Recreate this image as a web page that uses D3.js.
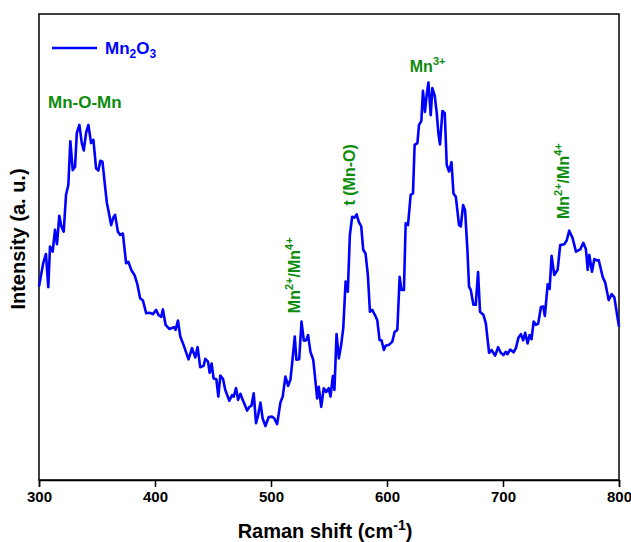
<!DOCTYPE html>
<html>
<head>
<meta charset="utf-8">
<script src="https://cdn.jsdelivr.net/npm/d3@7"></script>
<style>
  body { margin: 0; background: #fff; }
  text { font-family: "Liberation Sans", Arial, sans-serif; font-weight: bold; }
</style>
</head>
<body>
<div id="viz"></div>
<script>
// Raman spectrum of Mn2O3 (arbitrary intensity units)
var shift = [300, 303.7, 306.0, 308.0, 309.5, 311.8, 313.8, 315.5, 317.5, 319.3, 321.3, 323.3, 325.3, 327.0, 329.1,
  331.1, 332.6, 334.8, 336.9, 338.6, 340.6, 342.6, 344.9, 346.9, 349.2, 351.2, 352.9, 354.7, 357.0, 358.5,
  359.8, 362.2, 364.2, 365.6, 368.0, 370.0, 372.3, 375.1, 377.1, 379.5, 382.3, 384.6, 387.2, 389.6, 392.4,
  395.3, 398.2, 401.0, 403.0, 405.4, 406.8, 409.1, 412.5, 416.3, 417.7, 419.8, 421.8, 424.6, 428.9, 431.9,
  434.7, 436.7, 439.0, 441.9, 443.4, 445.7, 447.1, 448.8, 450.5, 452.9, 454.6, 456.3, 458.6, 460.6, 464.1,
  466.4, 467.8, 469.9, 471.6, 473.6, 475.6, 479.4, 481.4, 483.1, 485.1, 487.1, 488.9, 490.9, 492.8, 495.2,
  498.0, 501.0, 502.9, 505.3, 508.1, 510.1, 512.4, 514.8, 516.8, 518.2, 520.5, 521.9, 524.3, 526.3, 528.3,
  530.3, 532.0, 534.0, 536.4, 537.7, 539.8, 541.2, 543.3, 545.5, 547.6, 549.8, 551.3, 553.3, 554.7, 556.5,
  558.5, 560.5, 562.3, 564.3, 566.2, 568.0, 570.0, 572.0, 573.8, 575.7, 577.8, 579.5, 581.5, 583.5, 585.3,
  587.3, 589.6, 591.6, 593.6, 595.3, 597.3, 598.8, 601.7, 604.6, 606.6, 608.9, 610.9, 612.4, 614.6, 616.1,
  618.1, 620.4, 622.4, 623.8, 626.2, 627.6, 629.6, 631.0, 632.7, 634.2, 635.7, 637.7, 639.1, 641.1, 642.8,
  644.3, 645.7, 647.8, 649.8, 651.5, 653.5, 655.6, 657.3, 659.3, 662.1, 663.6, 665.6, 667.3, 669.4, 670.7,
  672.2, 674.5, 676.5, 678.5, 680.2, 683.2, 685.2, 688.0, 690.1, 693.2, 695.8, 698.1, 700.4, 702.4, 703.9,
  706.2, 709.1, 711.1, 713.4, 715.4, 717.4, 719.1, 721.2, 722.9, 724.6, 726.4, 728.3, 730.3, 732.7, 734.7,
  736.1, 738.5, 740.2, 741.9, 744.2, 747.1, 749.3, 752.8, 754.9, 757.1, 760.0, 762.9, 766.6, 769.2, 771.5,
  773.0, 774.4, 776.7, 778.7, 781.0, 782.5, 785.9, 788.2, 791.1, 793.7, 796.0, 800];
var intensity = [415, 466, 485, 414, 501, 490, 537, 506, 567, 544, 533, 612, 633, 727, 665,
  672, 745, 762, 723, 707, 745, 762, 723, 730, 669, 664, 685, 683, 629, 595,
  579, 547, 564, 569, 533, 526, 529, 465, 468, 451, 440, 422, 390, 385, 358,
  359, 356, 365, 354, 350, 366, 333, 324, 328, 322, 342, 308, 290, 259, 283,
  263, 285, 242, 245, 260, 254, 230, 250, 218, 216, 179, 224, 217, 193, 170,
  182, 179, 197, 172, 185, 172, 149, 157, 159, 186, 122, 139, 166, 132, 116,
  135, 136, 132, 120, 166, 179, 222, 202, 216, 250, 308, 258, 259, 340, 299,
  300, 311, 275, 258, 227, 175, 200, 157, 197, 189, 197, 179, 223, 193, 313,
  261, 290, 326, 426, 404, 526, 565, 563, 570, 554, 544, 494, 486, 440, 361,
  365, 354, 343, 300, 300, 279, 288, 290, 297, 318, 322, 436, 408, 408, 551,
  547, 612, 615, 719, 723, 762, 770, 835, 790, 826, 853, 783, 841, 825, 790,
  744, 720, 792, 787, 676, 662, 682, 615, 608, 547, 544, 590, 579, 490, 415,
  408, 376, 376, 446, 361, 354, 336, 273, 279, 267, 285, 273, 268, 275, 270,
  280, 274, 283, 306, 313, 300, 316, 293, 311, 302, 340, 333, 335, 371, 372,
  352, 420, 410, 481, 440, 451, 504, 506, 514, 535, 519, 490, 495, 509, 495,
  451, 483, 447, 474, 471, 472, 436, 423, 386, 399, 392, 329];

var xTicks = [300, 400, 500, 600, 700, 800];

// peak annotations: position in data units
var peakLabels = ["Mn-O-Mn", "Mn2+/Mn4+", "t (Mn-O)", "Mn3+", "Mn2+/Mn4+"];
var peakShift  = [300, 525, 572, 635, 757];
var peakValue  = [798, 358, 589, 875, 560];

var margin = {top: 14, right: 12, bottom: 62, left: 39},
    width = 631 - margin.left - margin.right,
    height = 542 - margin.top - margin.bottom;

var green = "#0c8c0c", blue = "#0000ff";

var svg = d3.select("#viz")
  .append("svg")
  .attr("width", 631)
  .attr("height", 542)
  .append("g")
  .attr("transform", "translate(" + margin.left + "," + margin.top + ")");

var x = d3.scaleLinear().domain([300, 800]).range([0, width]);
var y = d3.scaleLinear().domain([0, 1000]).range([height, 0]);

// frame
svg.append("rect")
  .attr("width", width).attr("height", height)
  .attr("fill", "none").attr("stroke", "#000").attr("stroke-width", 1.5);

// x axis
var xAxis = svg.append("g")
  .attr("transform", "translate(0," + height + ")")
  .call(d3.axisBottom(x).tickValues(xTicks).tickSize(7).tickPadding(4).tickFormat(d3.format("d")));
xAxis.select(".domain").attr("stroke-width", 1.5);
xAxis.selectAll(".tick line").attr("stroke-width", 1.5);
xAxis.selectAll(".tick text")
  .style("font-family", "'Liberation Sans', Arial, sans-serif")
  .style("font-weight", "bold").style("font-size", "15px").attr("fill", "#000");

// axis titles
var xt = svg.append("text")
  .attr("x", width / 2 - 4).attr("y", height + 58)
  .attr("text-anchor", "middle").style("font-size", "20px");
xt.append("tspan").text("Raman shift (cm");
xt.append("tspan").attr("dy", -8).style("font-size", "14px").text("-1");
xt.append("tspan").attr("dy", 8).text(")");

svg.append("text")
  .attr("transform", "translate(" + (-14) + "," + (height / 2 - 8) + ") rotate(-90)")
  .attr("text-anchor", "middle").style("font-size", "20px")
  .text("Intensity (a. u.)");

// spectrum
var pts = shift.map(function(s, i) { return {s: s, v: intensity[i]}; });
svg.append("path").datum(pts)
  .attr("fill", "none")
  .attr("stroke", blue)
  .attr("stroke-width", 2.6)
  .attr("stroke-linejoin", "round")
  .attr("d", d3.line()
    .x(function(d) { return x(d.s); })
    .y(function(d) { return y(d.v); }));

// legend
var lg = svg.append("g").attr("transform", "translate(13,34)");
lg.append("line").attr("x1", 0).attr("x2", 45).attr("stroke", blue).attr("stroke-width", 2.6);
var lt = lg.append("text").attr("x", 53).attr("y", 6).attr("fill", blue).style("font-size", "17px");
lt.append("tspan").text("Mn");
lt.append("tspan").attr("dy", 4).style("font-size", "12px").text("2");
lt.append("tspan").attr("dy", -4).text("O");
lt.append("tspan").attr("dy", 4).style("font-size", "12px").text("3");

// write a label, raising "2+", "3+", "4+" as superscripts
function richText(sel, str) {
  var lift = 0;
  str.split(/(\d\+)/).forEach(function(p) {
    if (!p) return;
    if (/^\d\+$/.test(p)) {
      sel.append("tspan").attr("dy", -7).style("font-size", "11px").text(p);
      lift = 7;
    } else {
      sel.append("tspan").attr("dy", lift).text(p);
      lift = 0;
    }
  });
}

// annotations
peakLabels.forEach(function(lab, i) {
  var px = x(peakShift[i]), py = y(peakValue[i]);
  var t;
  if (i === 0 || i === 3) {
    t = svg.append("text").attr("x", i === 0 ? px + 9 : px).attr("y", py)
      .attr("text-anchor", i === 0 ? "start" : "middle");
  } else {
    t = svg.append("text")
      .attr("transform", "translate(" + px + "," + py + ") rotate(-90)")
      .attr("text-anchor", "start");
  }
  t.attr("fill", green).style("font-size", i === 0 ? "17px" : "16px");
  richText(t, lab);
});
</script>
</body>
</html>
